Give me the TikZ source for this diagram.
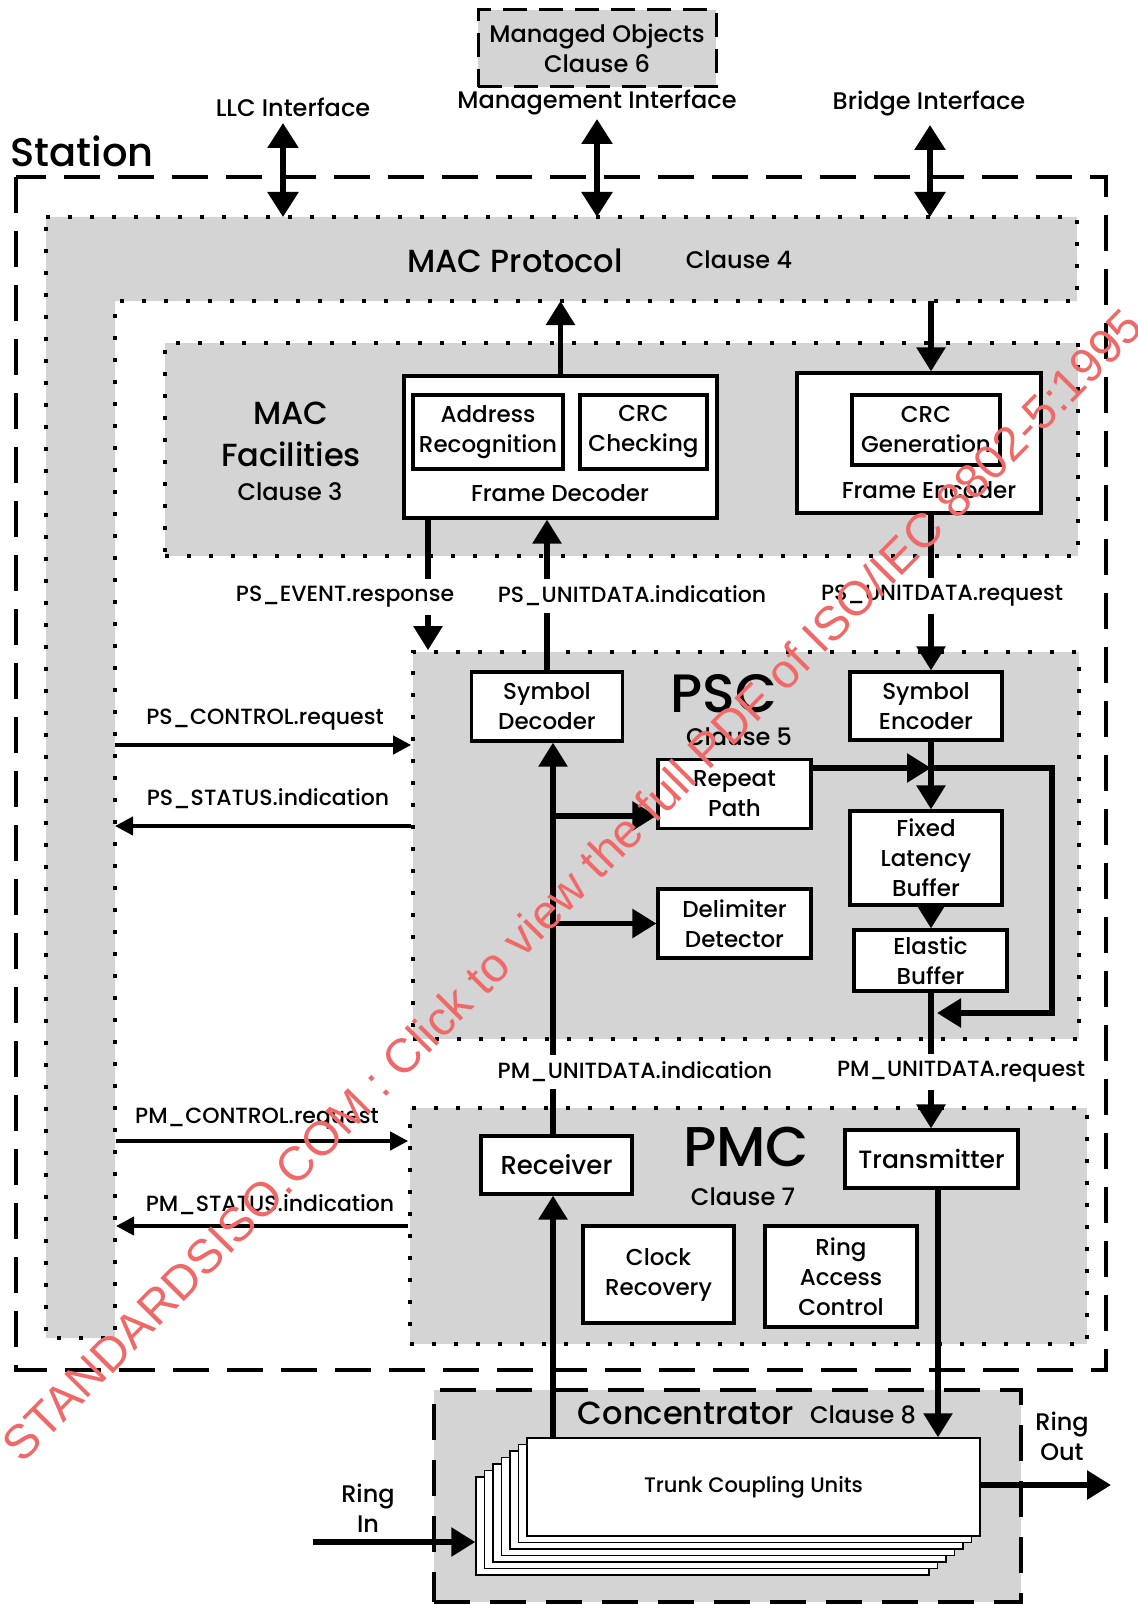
\documentclass[tikz,border=0pt]{standalone}
\usepackage{fontspec}
\setmainfont{Poppins Medium}
\newfontfamily\wmfamily{Liberation Sans}
\usetikzlibrary{arrows.meta}
\newcommand{\boxtxt}{\fontsize{11.5}{15}\selectfont}
\newcommand{\sigtxt}{\fontsize{11}{13}\selectfont}
\newcommand{\ifctxt}{\fontsize{12}{15}\selectfont}
\newcommand{\clausetxt}{\fontsize{12}{14}\selectfont}
\newcommand{\titletxt}{\fontsize{16}{21}\selectfont}
\newcommand{\hugetxt}{\fontsize{27}{30}\selectfont}
\newcommand{\tcutxt}{\fontsize{10.5}{12}\selectfont}
\newcommand{\wmtxt}{\wmfamily\fontsize{24}{26}\selectfont}
\definecolor{shade}{gray}{0.83}
\definecolor{wmred}{RGB}{240,105,105}

\begin{document}
\begin{tikzpicture}[x=0.5pt,y=-0.5pt,
    box/.style={draw, line width=1.6pt, fill=white, align=center, inner sep=0pt, font=\boxtxt},
    region/.style={draw, fill=shade, line width=1.8pt, dash pattern=on 2pt off 9pt},
    dashregion/.style={draw, fill=shade, line width=2pt, dash pattern=on 18pt off 10pt},
    stationline/.style={line width=2pt, dash pattern=on 18pt off 9pt},
    flow/.style={line width=2.8pt},
    flowarr/.style={flow, -{Triangle[length=12pt,width=14pt]}},
    flowdbl/.style={flow, {Triangle[length=12.5pt,width=15pt]}-{Triangle[length=12.5pt,width=15pt]}},
    sidearr/.style={line width=2pt, -{Triangle[length=9pt,width=9pt]}},
    sig/.style={font=\sigtxt, inner sep=3.5pt},
    tcubox/.style={draw, fill=white, line width=0.7pt, minimum width=226.5pt, minimum height=49pt, inner sep=0pt, font=\tcutxt}]

        \useasboundingbox (0,0) rectangle (1138,1605);

        % station and layers
        \draw[stationline] (16,177) rectangle (1106,1370);
        \node[anchor=base west, inner sep=0pt, font=\fontsize{20}{24}\selectfont] (stn) at (10,167) {Station};

        \node[draw, fill=shade, line width=1.5pt, dash pattern=on 12pt off 6pt, minimum width=119pt, minimum height=38.5pt,
              align=center, font=\ifctxt] (mobj) at (597,48.5) {Managed Objects\\Clause 6};

        \draw[region] (46,217) -- (1077,217) -- (1077,301) -- (115,301) -- (115,1338) -- (46,1338) -- cycle;
        \coordinate (mactop) at (0,217);
        \coordinate (macbot) at (0,301);
        \node[font=\titletxt] (macp) at (515,261) {MAC Protocol};
        \node[font=\clausetxt] (cl4) at (739,260) {Clause 4};

        \node[region, minimum width=456.5pt, minimum height=106.5pt] (macf) at (621.5,449.5) {};
        \node[font=\titletxt, align=center] (macft) at (291,434) {MAC\\Facilities};
        \node[font=\clausetxt] (cl3) at (290,492) {Clause 3};

        \node[region, minimum width=333pt, minimum height=193.5pt] (psc) at (746,845.5) {};
        \node[font=\hugetxt] (psct) at (724,694) {PSC};
        \node[font=\clausetxt] (cl5) at (739,737) {Clause 5};

        \node[region, minimum width=338.5pt, minimum height=118pt] (pmc) at (748.5,1226) {};
        \node[font=\fontsize{28}{30}\selectfont] (pmct) at (746,1147) {PMC};
        \node[font=\clausetxt] (cl7) at (743,1197) {Clause 7};

        \node[dashregion, minimum width=293.5pt, minimum height=106pt] (conc) at (727.5,1496) {};
        \node[font=\fontsize{16}{20}\selectfont] (conct) at (686,1413) {Concentrator};
        \node[font=\clausetxt] (cl8) at (863,1415) {Clause 8};

        % frame decoder / encoder
        \node[box, minimum width=156.5pt, minimum height=71pt] (fdec) at (560.5,447) {};
        \node[box, minimum width=75pt, minimum height=37pt] (addr) at (488,432) {Address\\Recognition};
        \node[box, minimum width=63.5pt, minimum height=37pt] (crcc) at (643.5,432) {CRC\\Checking};
        \node[font=\boxtxt] (fdect) at (560,493) {Frame Decoder};

        \node[box, minimum width=122pt, minimum height=70pt] (fenc) at (919,443) {};
        \node[box, minimum width=74pt, minimum height=35pt] (crcg) at (926,430) {CRC\\Generation};
        \node[font=\boxtxt] (fenct) at (929,490) {Frame Encoder};

        % psc boxes
        \node[box, minimum width=75.5pt, minimum height=34.5pt] (sdec) at (547,706.5) {Symbol\\Decoder};
        \node[box, minimum width=76pt, minimum height=34pt] (senc) at (926,706) {Symbol\\Encoder};
        \node[box, minimum width=76.5pt, minimum height=34.5pt] (rpath) at (734.5,794) {Repeat\\Path};
        \node[box, minimum width=76.5pt, minimum height=34.5pt] (delim) at (734.5,923.5) {Delimiter\\Detector};
        \node[box, minimum width=76pt, minimum height=47pt] (flb) at (926,858) {Fixed\\Latency\\Buffer};
        \node[box, minimum width=76.5pt, minimum height=30.5pt] (ebuf) at (930.5,960.5) {Elastic\\Buffer};

        % pmc boxes
        \node[box, minimum width=75.5pt, minimum height=29pt, font=\fontsize{13}{15}\selectfont] (recv) at (556.5,1165) {Receiver};
        \node[box, minimum width=86.5pt, minimum height=29pt, font=\fontsize{12.5}{15}\selectfont] (xmit) at (931.5,1159) {Transmitter};
        \node[box, minimum width=75.5pt, minimum height=48.5pt] (clk) at (658.5,1274.5) {Clock\\Recovery};
        \node[box, minimum width=76pt, minimum height=50.5pt] (rac) at (841,1276.5) {Ring\\Access\\Control};

        % trunk coupling units
        \foreach \k in {6,5,...,1}
          \node[tcubox] (tcu\k) at ({753.5-8.5*\k},{1487+6.5*\k}) {};
        \node[tcubox] (tcu) at (753.5,1487) {Trunk Coupling Units};

        % labels
        \node[font=\ifctxt] (llc) at (293,107) {LLC Interface};
        \node[font=\ifctxt] (mgt) at (597,103) {Management Interface};
        \node[font=\ifctxt] (brg) at (929,104) {Bridge Interface};

        \node[sig] (evt) at (345,597) {PS\_EVENT.response};
        \node[sig] (uind) at (632,596) {PS\_UNITDATA.indication};
        \node[sig] (ureq) at (942,596) {PS\_UNITDATA.request};
        \node[sig] (mind) at (635,1072) {PM\_UNITDATA.indication};
        \node[sig] (mreq) at (961,1072) {PM\_UNITDATA.request};
        \node[sig] (pscr) at (265,720) {PS\_CONTROL.request};
        \node[sig] (pssi) at (268,799) {PS\_STATUS.indication};
        \node[sig] (pmcr) at (257,1119) {PM\_CONTROL.request};
        \node[sig] (pmsi) at (270,1205) {PM\_STATUS.indication};

        \node[font=\ifctxt, align=center] (rin) at (368,1508) {Ring\\In};
        \node[font=\ifctxt, align=center] (rout) at (1062,1436) {Ring\\Out};

        % columns and loose ends
        \coordinate (ecol) at (428,0);
        \coordinate (lcol) at (553,0);
        \coordinate (rcol) at (931,0);
        \coordinate (tcol) at (938,0);
        \coordinate (llcend) at (283,123);
        \coordinate (mgtend) at (597,119);
        \coordinate (brgend) at (930,125);
        \coordinate (loopt) at (1052,768);
        \coordinate (loopb) at (1052,1013);
        \coordinate (rpin) at ([yshift=-11pt]rpath.west);
        \coordinate (psreq) at (115,745);
        \coordinate (psind) at (115,826);
        \coordinate (pmreq) at (116,1141);
        \coordinate (pmind) at (116,1226);
        \coordinate (ringin) at (313,1542);
        \coordinate (ringout) at (1111,1485);

        % interfaces
        \draw[flowdbl] (llcend) -- (llcend |- mactop);
        \draw[flowdbl] (mgtend) -- (mgtend |- mactop);
        \draw[flowdbl] (brgend) -- (brgend |- mactop);

        % mac protocol <-> facilities
        \draw[flowarr] (fdec.north) -- (fdec.north |- macbot);
        \draw[flowarr] (rcol |- macbot) -- (rcol |- fenc.north);

        % facilities <-> psc
        \draw[flow] (ecol |- fdec.south) -- (ecol |- evt.north);
        \draw[flowarr] (ecol |- evt.south) -- (ecol |- psc.north);
        \draw[flow] (sdec.north) -- (sdec.north |- uind.south);
        \draw[flowarr] (sdec.north |- uind.north) -- (sdec.north |- fdec.south);
        \draw[flow] (rcol |- fenc.south) -- (rcol |- ureq.north);
        \draw[flowarr] (rcol |- ureq.south) -- (rcol |- senc.north);

        % transmit side
        \draw[flowarr] (rcol |- senc.south) -- (rcol |- flb.north);
        \draw[flowarr] (rcol |- flb.south) -- (rcol |- ebuf.north);
        \draw[flowarr] ([yshift=13pt]rpath.east) -- (rcol |- loopt);
        \draw[flowarr] (rcol |- loopt) -- (loopt) -- (loopb) -- ([xshift=3pt]rcol |- loopb);
        \draw[flow] (rcol |- ebuf.south) -- (rcol |- mreq.north);
        \draw[flowarr] (rcol |- mreq.south) -- (rcol |- xmit.north);
        \draw[flowarr] (tcol |- xmit.south) -- (tcol |- tcu.north);

        % receive side
        \draw[flowarr] (lcol |- tcu.north) -- (lcol |- recv.south);
        \draw[flow] (lcol |- recv.north) -- (lcol |- mind.south);
        \draw[flowarr] (lcol |- mind.north) -- (lcol |- sdec.south);
        \draw[flowarr] (lcol |- rpin) -- (rpin);
        \draw[flowarr] (lcol |- delim.west) -- (delim.west);

        % management primitives
        \draw[sidearr] (psreq) -- (psreq -| psc.west);
        \draw[sidearr] (psind -| psc.west) -- (psind);
        \draw[sidearr] (pmreq) -- (pmreq -| pmc.west);
        \draw[sidearr] (pmind -| pmc.west) -- (pmind);

        % ring
        \draw[flowarr] (ringin) -- (ringin -| tcu6.west);
        \draw[flowarr] (tcu.east |- ringout) -- (ringout);

        \node[rotate=45.3, text=wmred, font=\wmtxt, inner sep=0pt] (wm) at (572,885)
          {STANDARDSISO.COM : Click to view the full PDF of ISO/IEC 8802-5:1995};

\end{tikzpicture}
\end{document}
